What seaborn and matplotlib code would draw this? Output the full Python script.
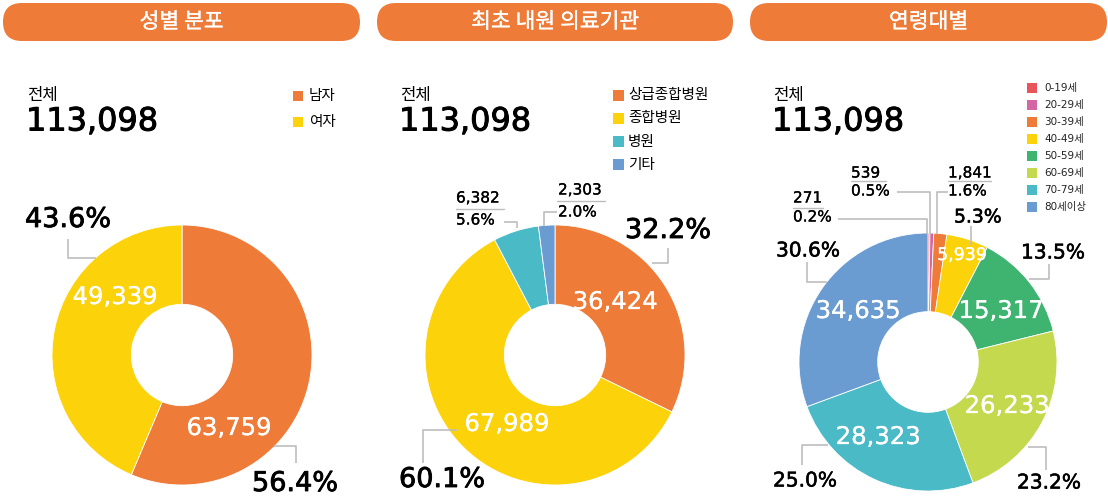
import matplotlib
matplotlib.use("Agg")
import matplotlib.pyplot as plt
import matplotlib.patheffects as pe
from matplotlib.patches import FancyBboxPatch, Rectangle
import seaborn as sns

# ---------------- data ----------------
titles = ["성별 분포", "최초 내원 의료기관", "연령대별"]
total_label = "전체"
total = 113098
gender_labels = ["남자", "여자"]
gender_values = [63759, 49339]
inst_labels = ["상급종합병원", "종합병원", "병원", "기타"]
inst_values = [36424, 67989, 6382, 2303]
age_labels = ["0-19세", "20-29세", "30-39세", "40-49세", "50-59세", "60-69세", "70-79세", "80세이상"]
age_values = [271, 539, 1841, 5939, 15317, 26233, 28323, 34635]

# ---------------- style ----------------
sns.set_theme(style="white")
plt.rcParams['font.family'] = ['DejaVu Sans', 'Noto Sans CJK KR']
plt.rcParams['text.color'] = 'black'
KR = ['Noto Sans CJK KR', 'DejaVu Sans']

ORANGE = "#EE7B38"; YELLOW = "#FCD20B"; TEAL = "#4ABAC6"; BLUE = "#6A9BD1"
RED = "#E8545A"; PINK = "#D566A6"; GREEN = "#3EB470"; LIME = "#C4D94E"
GRAY = "#BDBDBD"
gender_colors = sns.color_palette([ORANGE, YELLOW])
inst_colors = sns.color_palette([ORANGE, YELLOW, TEAL, BLUE])
age_colors = sns.color_palette([RED, PINK, ORANGE, YELLOW, GREEN, LIME, TEAL, BLUE])

W, H = 1108, 498
fig = plt.figure(figsize=(W / 100, H / 100), dpi=100)
fig.patch.set_facecolor("white")

ov = fig.add_axes([0, 0, 1, 1], zorder=5)
ov.set_xlim(0, W); ov.set_ylim(H, 0); ov.axis('off'); ov.patch.set_alpha(0)


def thick(color, lw):
    return [pe.withStroke(linewidth=lw, foreground=color)]


def pct(v, vals):
    return f"{100 * v / sum(vals):.1f}%"


def draw_pie(cx, cy, r, values, colors):
    ax = fig.add_axes([(cx - r) / W, (H - cy - r) / H, 2 * r / W, 2 * r / H], zorder=1)
    ax.pie(values, colors=colors, startangle=90, counterclock=False, radius=1,
           wedgeprops=dict(width=0.61, edgecolor='white', linewidth=0.6))
    ax.set_xlim(-1, 1); ax.set_ylim(-1, 1); ax.set_aspect('equal'); ax.axis('off')
    return ax


def leader(pts):
    xs, ys = zip(*pts)
    ov.plot(xs, ys, color=GRAY, lw=1.2, solid_capstyle='butt')


def big_pct(x, y, s, size=19.5, lw=0.6):
    ov.text(x, y, s, fontsize=size, color='black', ha='left', va='center',
            path_effects=thick('black', lw))


def white_lbl(x, y, s, size=17.5):
    ov.text(x, y, s, fontsize=size, color='white', ha='center', va='center',
            path_effects=thick('white', 0.2))


def small_pair(x, y1, y2, top, bottom, uline_y, x0, x1):
    ov.text(x, y1, top, fontsize=11, ha='left', va='center', path_effects=thick('black', 0.2))
    ov.text(x, y2, bottom, fontsize=11, ha='left', va='center', path_effects=thick('black', 0.2))
    ov.plot([x0, x1], [uline_y, uline_y], color=GRAY, lw=1.0)


# ---------------- titles & headers ----------------
pills = [(3, 360), (377, 733), (750, 1107)]
for (x0, x1), t in zip(pills, titles):
    ov.add_patch(FancyBboxPatch((x0, 3), x1 - x0, 38, boxstyle="round,pad=0,rounding_size=19",
                                fc=ORANGE, ec='none'))
    ov.text((x0 + x1) / 2, 22, t, color='white', fontsize=15.5, ha='center', va='center',
            family=KR, fontweight='medium', path_effects=thick('white', 0.2))

for hx in [27, 400, 773]:
    ov.text(hx, 95, total_label, fontsize=12, ha='left', va='center', family=KR,
            fontweight='medium')
    ov.text(hx - 1, 122, f"{total:,}", fontsize=23, ha='left', va='center',
            path_effects=thick('black', 0.7))

# legends
for i, (lab, c) in enumerate(zip(gender_labels, gender_colors)):
    y = 96 + i * 25.5
    ov.add_patch(Rectangle((293, y - 5), 10, 10, fc=c, ec='none'))
    ov.text(309, y, lab, fontsize=10.5, ha='left', va='center', family=KR, fontweight='medium')
for i, (lab, c) in enumerate(zip(inst_labels, inst_colors)):
    y = 95 + i * 23.3
    ov.add_patch(Rectangle((613, y - 5.5), 11, 11, fc=c, ec='none'))
    ov.text(628, y, lab, fontsize=10.5, ha='left', va='center', family=KR, fontweight='medium')
for i, (lab, c) in enumerate(zip(age_labels, age_colors)):
    y = 88 + i * 17.07
    ov.add_patch(Rectangle((1027, y - 5), 10, 10, fc=c, ec='none'))
    ov.text(1044, y, lab, fontsize=7.5, ha='left', va='center', color='#222222')

# ---------------- chart 1: gender ----------------
draw_pie(182, 355, 130, gender_values, gender_colors)
big_pct(25, 220, pct(gender_values[1], gender_values))
leader([(68, 239), (68, 258), (96, 258)])
white_lbl(115, 297, f"{gender_values[1]:,}")
white_lbl(229, 428, f"{gender_values[0]:,}")
big_pct(252, 484, pct(gender_values[0], gender_values))
leader([(274, 446), (296, 446), (296, 463)])

# ---------------- chart 2: institution ----------------
draw_pie(555, 355, 130, inst_values, inst_colors)
big_pct(625, 231, pct(inst_values[0], inst_values))
leader([(652, 263), (668, 263), (668, 248)])
white_lbl(615, 302, f"{inst_values[0]:,}")
white_lbl(507, 424, f"{inst_values[1]:,}")
big_pct(399, 480, pct(inst_values[1], inst_values))
leader([(423, 463), (423, 430), (457, 430)])
small_pair(456, 198, 220, f"{inst_values[2]:,}", pct(inst_values[2], inst_values), 209, 456, 504)
leader([(504, 222), (517, 222), (517, 228)])
small_pair(558, 190, 212, f"{inst_values[3]:,}", pct(inst_values[3], inst_values), 201, 557, 605)
leader([(557, 212), (544, 212), (544, 226)])

# ---------------- chart 3: age ----------------
draw_pie(928, 362, 129, age_values, age_colors)
small_pair(793, 198, 217, f"{age_values[0]:,}", pct(age_values[0], age_values), 208, 793, 823)
leader([(838, 219), (927, 219), (927, 234)])
small_pair(851, 173, 191, f"{age_values[1]:,}", pct(age_values[1], age_values), 181, 851, 886)
leader([(897, 192), (930, 192), (930, 234)])
small_pair(948, 173, 191, f"{age_values[2]:,}", pct(age_values[2], age_values), 181, 948, 991)
leader([(948, 192), (937, 192), (937, 234)])
big_pct(954, 217, pct(age_values[3], age_values), size=13.5, lw=0.4)
leader([(971, 226), (971, 245)])
white_lbl(962, 255, f"{age_values[3]:,}", size=12.5)
big_pct(1021, 253, pct(age_values[4], age_values), size=14.5, lw=0.4)
leader([(1029, 279), (1049, 279), (1049, 264)])
white_lbl(1001, 311, f"{age_values[4]:,}")
white_lbl(1007, 406, f"{age_values[5]:,}")
big_pct(1017, 483, pct(age_values[5], age_values), size=14.5, lw=0.4)
leader([(1028, 447), (1046, 447), (1046, 470)])
white_lbl(878, 437, f"{age_values[6]:,}")
big_pct(773, 481, pct(age_values[6], age_values), size=14.5, lw=0.4)
leader([(802, 465), (802, 445), (828, 445)])
white_lbl(858, 311, f"{age_values[7]:,}")
big_pct(776, 251, pct(age_values[7], age_values), size=14.5, lw=0.4)
leader([(807, 262), (807, 282), (827, 282)])

fig.savefig("out.png", dpi=100, facecolor="white")
